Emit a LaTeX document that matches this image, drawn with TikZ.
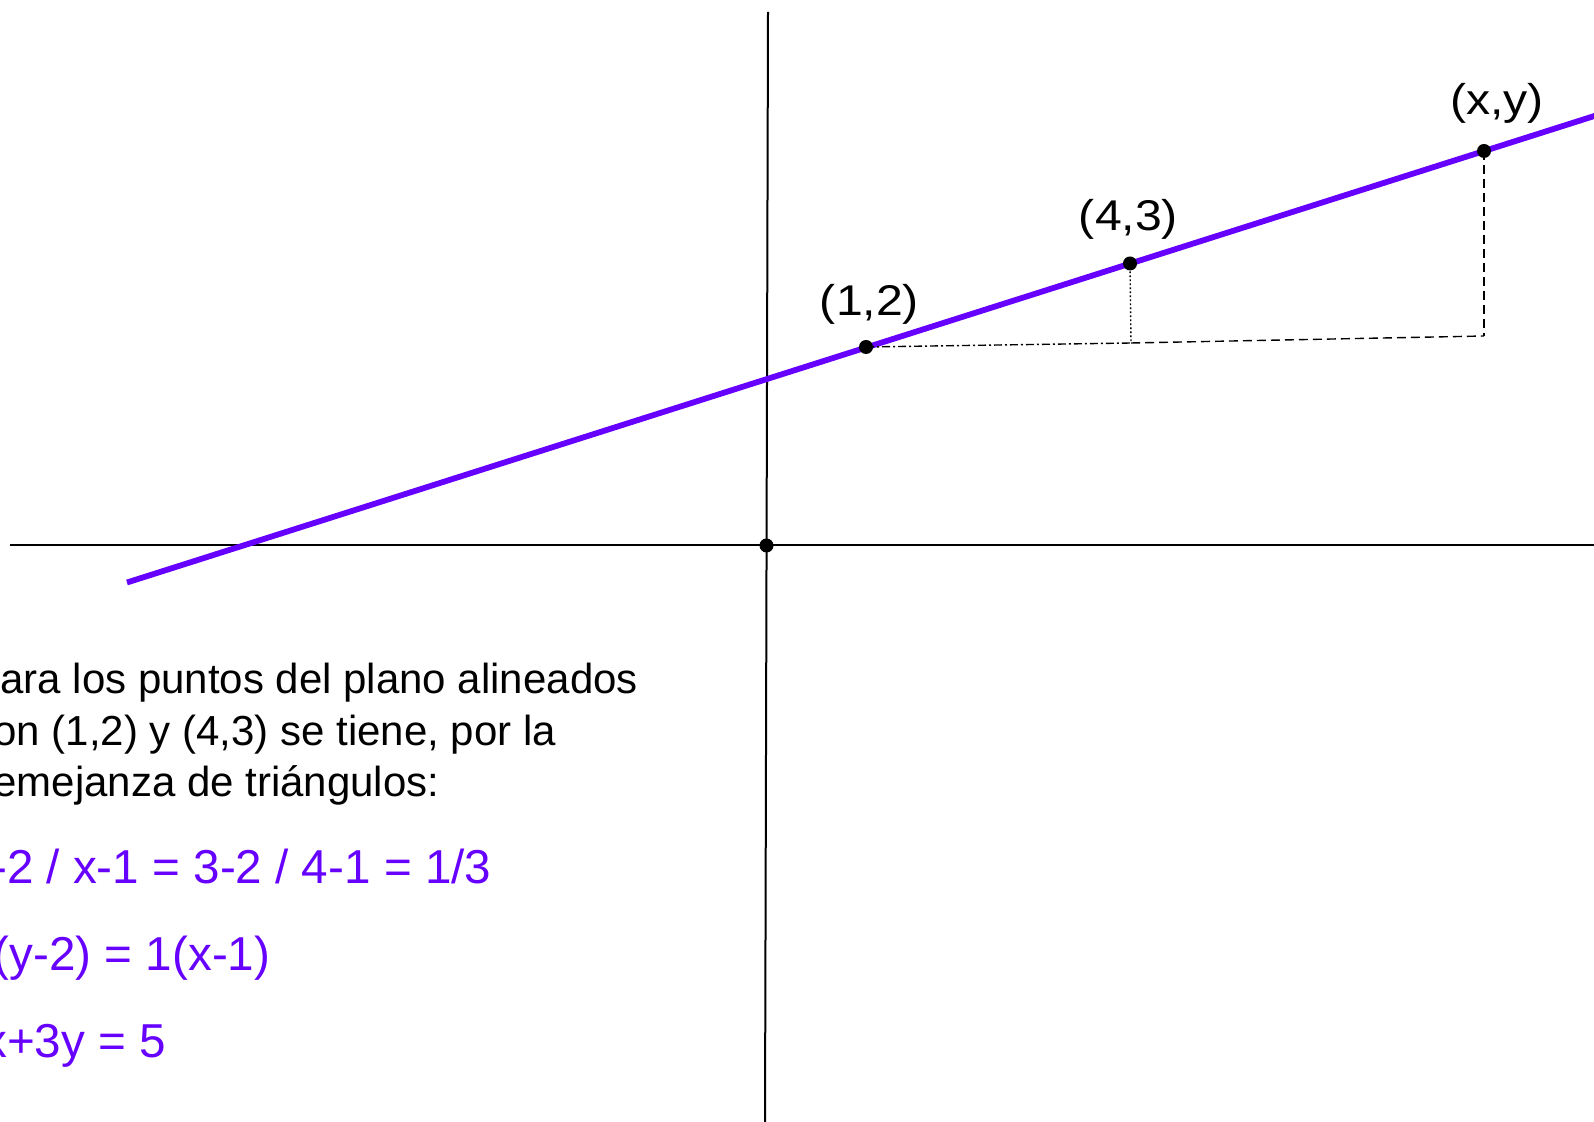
\documentclass[tikz,border=0pt]{standalone}
\usepackage{fontspec}
\setmainfont{Liberation Sans}
\newfontfamily\etiqfont[FakeStretch=1.12]{Liberation Sans}
\usetikzlibrary{positioning}
\usepackage{xcolor}
\definecolor{violeta}{HTML}{6600FF}
\tikzset{
  eje/.style={draw=black,line width=1bp},
  recta/.style={draw=violeta,line width=2.9bp},
  guia/.style={draw=black,line width=0.7bp},
  punto/.style={circle,fill=black,inner sep=0pt,minimum size=7bp},
  etiqueta/.style={font=\etiqfont\fontsize{21.5bp}{25bp}\selectfont,inner sep=0pt},
  nota/.style={font=\fontsize{21bp}{25.75bp}\selectfont,align=left,inner sep=0pt,anchor=base west},
  ecuacion/.style={font=\fontsize{23.8bp}{28bp}\selectfont,text=violeta,inner sep=0pt,anchor=base west}
}
\begin{document}
\begin{tikzpicture}[x=0.5bp,y=-0.5bp]
\useasboundingbox (0,0) rectangle (1594,1122);
\clip (0,0) rectangle (1594,1122);
\coordinate (ejexa) at (10,545.5);
\coordinate (ejexb) at (1594,545.5);
\coordinate (ejeya) at (768,12);
\coordinate (ejeyb) at (765,1122);
\coordinate (ra) at (127,582.5);
\coordinate (rb) at (1600,114.2);
\coordinate (o) at (766.5,545.5);
\coordinate (c12) at (866,347);
\coordinate (c43) at (1130,263.5);
\coordinate (cxy) at (1484,151);
\coordinate (f43) at (1131,343);
\coordinate (fxy) at (1484,336);

\draw[eje] (ejexa) -- (ejexb);
\draw[eje] (ejeya) -- (ejeyb);
\draw[recta] (ra) -- (rb);
\draw[guia,dash pattern=on 4bp off 1.5bp on 1bp off 1.5bp] (c12) -- (f43);
\draw[guia,dash pattern=on 0.8bp off 1.2bp] (c43) -- (f43);
\draw[guia,dash pattern=on 4.5bp off 2.5bp] (f43) -- (fxy);
\draw[guia,dash pattern=on 4.5bp off 2.5bp] (cxy) -- (fxy);

\node[punto] (p0) at (o) {};
\node[punto] (p12) at (c12) {};
\node[punto] (p43) at (c43) {};
\node[punto] (pxy) at (cxy) {};

\node[etiqueta,above=7.2bp of p12,xshift=1.75bp] (l12) {(1,2)};
\node[etiqueta,above=8.2bp of p43,xshift=-0.75bp] (l43) {(4,3)};
\node[etiqueta,above=9.9bp of pxy,xshift=6.5bp] (lxy) {(x,y)};

\node[nota] (texto) at (-28,797) {Para los puntos del plano alineados\\con (1,2) y (4,3) se tiene, por la\\semejanza de triángulos:};
\node[ecuacion] (eq1) at (-33,883) {y-2 / x-1 = 3-2 / 4-1 = 1/3};
\node[ecuacion] (eq2) at (-33,970) {3(y-2) = 1(x-1)};
\node[ecuacion] (eq3) at (-33,1057) {-x+3y = 5};
\end{tikzpicture}
\end{document}
